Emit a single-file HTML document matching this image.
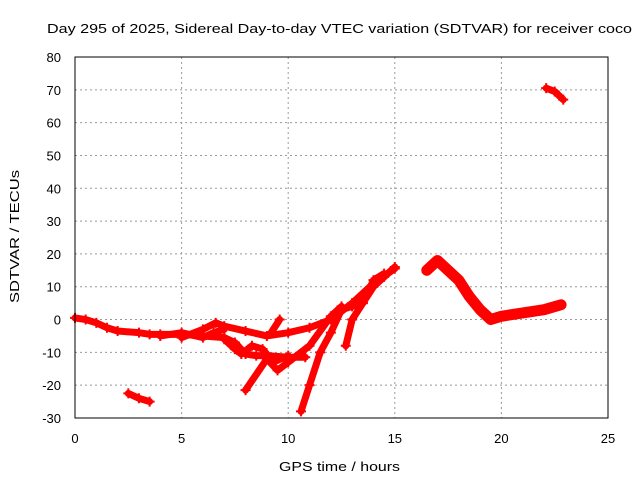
<!DOCTYPE html>
<html><head><meta charset="utf-8"><style>
body{margin:0;background:#fff;}
svg text{font-family:"Liberation Sans",sans-serif;font-size:13px;fill:#000;}
</style></head><body>
<svg id="chart" width="640" height="480" xmlns="http://www.w3.org/2000/svg">
<text x="47" y="33" font-size="15" textLength="585" lengthAdjust="spacingAndGlyphs">Day 295 of 2025, Sidereal Day-to-day VTEC variation (SDTVAR) for receiver coco</text>
<g id="grid"></g>
<g id="series"></g>
<rect x="75" y="57" width="533" height="361" fill="none" stroke="#000" stroke-width="1"/>
<g id="ticks"></g>
<text x="279" y="471" font-size="15" textLength="121" lengthAdjust="spacingAndGlyphs">GPS time / hours</text>
<text transform="translate(19,303) rotate(-90)" font-size="15" textLength="133" lengthAdjust="spacingAndGlyphs">SDTVAR / TECUs</text>
</svg>
<script>
const xTicks=[0,5,10,15,20,25];
const yTicks=[-30,-20,-10,0,10,20,30,40,50,60,70,80];
const track1=[[0,0.5],[0.5,0],[1,-1],[1.5,-2.5],[2,-3.5],[3,-4],[3.5,-4.5],[4,-4.5],[5,-4.5],[6,-5],[7,-5.5],[7.5,-7],[8,-10.5],[8.5,-11],[9,-11],[10,-11.5],[10.8,-11.5]];
const track2=[[5,-5.5],[6,-3],[6.6,-1],[7,-2],[8,-3.5],[9,-5],[10,-4],[11,-2.5],[12,0],[13,5],[14,11],[15,15.5]];
const track3=[[7,-6],[7.5,-9],[7.8,-10.5],[8.3,-8],[8.8,-9],[9.3,-13],[10,-11]];
const track4=[[8,-21.5],[9,-12],[9.5,-15.5],[10,-13],[11,-8],[12,1],[12.5,4]];
const track5=[[10.6,-28],[11,-20],[11.5,-10],[12,-4],[12.5,3],[13,4],[13.5,5],[14,12],[14.5,14]];
const track6=[[12.7,-8],[13,0],[13.5,5],[14,10],[14.5,13],[15,16]];
const track7=[[16.5,15],[17,18],[17.5,15],[18,12],[18.5,7],[19,3],[19.5,0],[20,1],[21,2],[22,3],[22.8,4.5]];
const track8=[[2.5,-22.5],[3,-24],[3.5,-25]];
const track9=[[22.1,70.5],[22.5,69.5],[22.9,67]];
const track10=[[9.2,-4],[9.6,0]];
const track11=[[4,-5],[5,-4],[6,-5.5],[6.5,-4],[7,-3]];
const tracks=[track1,track2,track3,track4,track5,track6,track7,track8,track9,track10,track11];
const NS="http://www.w3.org/2000/svg";
const X=h=>75+h*533/25;
const Y=v=>418-(v+30)*361/110;
const grid=document.getElementById('grid'),ticks=document.getElementById('ticks'),ser=document.getElementById('series');
function mk(tag,attrs,parent){const e=document.createElementNS(NS,tag);for(const k in attrs)e.setAttribute(k,attrs[k]);parent.appendChild(e);return e;}
xTicks.forEach(t=>{
  if(t>0&&t<25){const g=mk('line',{x1:X(t),x2:X(t),y1:57,y2:418,stroke:'#999','stroke-dasharray':'2,3'},grid);
  
  }
  const tl=mk('text',{x:X(t),y:443,'text-anchor':'middle'},ticks);tl.textContent=t;
  
  
});
yTicks.forEach(t=>{
  if(t>-30&&t<80){const g=mk('line',{x1:75,x2:608,y1:Y(t),y2:Y(t),stroke:'#999','stroke-dasharray':'2,3'},grid);
  
  }
  const tl=mk('text',{x:61,y:Y(t)+5,'text-anchor':'end'},ticks);tl.textContent=t;
  
  
});
tracks.forEach((tr,i)=>{
  const p=mk('polyline',{points:tr.map(d=>X(d[0])+','+Y(d[1])).join(' '),fill:'none',stroke:'#f00','stroke-width':i===6?11:7,'stroke-linejoin':'round','stroke-linecap':'round'},ser);
  
  
  tr.forEach(d=>{
    const m=mk('path',{d:`M${X(d[0])-5},${Y(d[1])}h10M${X(d[0])},${Y(d[1])-5}v10`,stroke:'#f00','stroke-width':2},ser);
    
    
  });
});
</script>
</body></html>
